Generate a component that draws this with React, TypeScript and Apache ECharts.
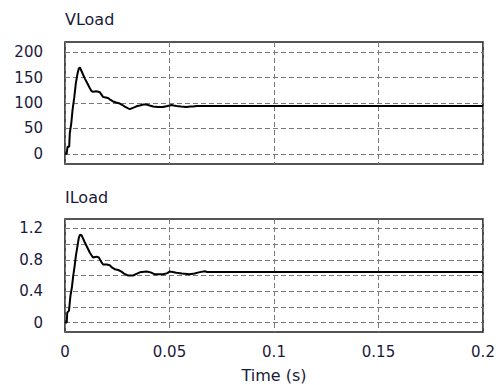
import React, { useEffect, useRef } from "react";
import * as echarts from "echarts";

// VLoad (V) vs time (s)
const vTime = [0, 0.0008, 0.0012, 0.002, 0.0023, 0.003, 0.0036, 0.0044, 0.0052, 0.006, 0.0066, 0.0071, 0.008, 0.0095, 0.0108, 0.0119, 0.0126, 0.0134, 0.015, 0.0167, 0.0182, 0.0195, 0.0206, 0.0218, 0.023, 0.0245, 0.0262, 0.0275, 0.0286, 0.03, 0.031, 0.0322, 0.0334, 0.0346, 0.0358, 0.0375, 0.039, 0.0405, 0.0422, 0.0445, 0.0469, 0.049, 0.051, 0.052, 0.0533, 0.0555, 0.0581, 0.06, 0.0613, 0.063, 0.0645, 0.2];
const vLoad = [0, 0, 14, 14, 41, 60, 86, 110, 139, 158, 168, 170, 162, 148, 138, 129, 124, 122, 123, 121, 112, 111, 110, 106, 103, 101, 99, 96, 93, 90, 88, 90, 92, 94, 95, 97, 97, 95, 93, 92, 92, 94, 96, 95, 94, 93, 92, 93, 93, 94, 94, 94];

// ILoad (A) vs time (s)
const iTime = [0, 0.0008, 0.0011, 0.0019, 0.0026, 0.0033, 0.0039, 0.0046, 0.0052, 0.006, 0.0066, 0.0072, 0.008, 0.0095, 0.0108, 0.0119, 0.0134, 0.015, 0.0162, 0.0172, 0.0182, 0.02, 0.0214, 0.0226, 0.0238, 0.0255, 0.027, 0.0285, 0.0302, 0.0326, 0.0342, 0.0358, 0.039, 0.041, 0.043, 0.047, 0.049, 0.05, 0.0515, 0.0533, 0.056, 0.0597, 0.062, 0.064, 0.0669, 0.068, 0.2];
const iLoad = [0, 0, 0.13, 0.15, 0.34, 0.45, 0.59, 0.72, 0.85, 0.98, 1.08, 1.12, 1.11, 1.02, 0.95, 0.89, 0.83, 0.84, 0.83, 0.78, 0.74, 0.74, 0.73, 0.7, 0.68, 0.67, 0.65, 0.62, 0.6, 0.6, 0.62, 0.64, 0.65, 0.64, 0.615, 0.615, 0.63, 0.65, 0.645, 0.635, 0.625, 0.615, 0.625, 0.64, 0.655, 0.645, 0.645];

const xTicks = [0, 0.05, 0.1, 0.15, 0.2];
const vGridValues = [0, 50, 100, 150, 200];
const vLabelValues = [0, 50, 100, 150, 200];
const iGridValues = [0, 0.2, 0.4, 0.6, 0.8, 1.0, 1.2];
const iLabelValues = [0, 0.4, 0.8, 1.2];

const FONT = "DejaVu Sans";
const TXT = "#1a1a3a";

const near = (arr: number[], v: number) => arr.some((a) => Math.abs(a - v) < 1e-6);

export default function App() {
  const ref = useRef<HTMLDivElement>(null);
  useEffect(() => {
    if (!ref.current) return;
    const chart = echarts.init(ref.current, null, { renderer: "svg" });
    const split = { show: true, lineStyle: { color: "#7a7a7a", width: 1, type: [5, 3] as any } };
    const grids = [
      { left: 65, top: 42, width: 418, height: 122, show: true, borderColor: "#1e1e1e", borderWidth: 1.6, backgroundColor: "#fff" },
      { left: 65, top: 219, width: 418, height: 113, show: true, borderColor: "#1e1e1e", borderWidth: 1.6, backgroundColor: "#fff" },
    ];
    const xAxisBase = {
      type: "value",
      min: 0,
      max: 0.2,
      interval: 0.05,
      axisLine: { show: false },
      axisTick: { show: false, customValues: xTicks },
      splitLine: split,
    };
    chart.setOption({
      animation: false,
      backgroundColor: "#fff",
      textStyle: { fontFamily: FONT },
      grid: grids,
      xAxis: [
        { ...xAxisBase, gridIndex: 0, axisLabel: { show: false } },
        {
          ...xAxisBase,
          gridIndex: 1,
          axisLabel: {
            show: true,
            customValues: xTicks,
            margin: 12,
            color: TXT,
            fontSize: 15,
            fontFamily: FONT,
            formatter: (v: number) => String(Number(v.toFixed(3))),
          },
          name: "Time (s)",
          nameLocation: "middle",
          nameGap: 35,
          nameTextStyle: { color: TXT, fontSize: 16, fontFamily: FONT },
        },
      ],
      yAxis: [
        {
          type: "value",
          gridIndex: 0,
          min: -20,
          max: 220,
          splitNumber: 5,
          axisLine: { show: false },
          axisTick: { show: false, customValues: vGridValues },
          splitLine: split,
          axisLabel: {
            customValues: vLabelValues,
            margin: 22,
            color: TXT,
            fontSize: 15,
            fontFamily: FONT,
            formatter: (v: number) => (near(vLabelValues, v) ? String(Math.round(v)) : ""),
          },
        },
        {
          type: "value",
          gridIndex: 1,
          min: -0.12,
          max: 1.32,
          splitNumber: 7,
          axisLine: { show: false },
          axisTick: { show: false, customValues: iGridValues },
          splitLine: split,
          axisLabel: {
            customValues: iLabelValues,
            margin: 22,
            color: TXT,
            fontSize: 15,
            fontFamily: FONT,
            formatter: (v: number) => (near(iLabelValues, v) ? String(Number(v.toFixed(2))) : ""),
          },
        },
      ],
      graphic: [
        { type: "text", left: 65, top: 11, style: { text: "VLoad", fill: TXT, font: `16px "${FONT}"` } },
        { type: "text", left: 65, top: 189, style: { text: "ILoad", fill: TXT, font: `16px "${FONT}"` } },
      ],
      series: [
        {
          type: "line",
          xAxisIndex: 0,
          yAxisIndex: 0,
          data: vTime.map((t, k) => [t, vLoad[k]]),
          showSymbol: false,
          lineStyle: { color: "#000", width: 2 },
        },
        {
          type: "line",
          xAxisIndex: 1,
          yAxisIndex: 1,
          data: iTime.map((t, k) => [t, iLoad[k]]),
          showSymbol: false,
          lineStyle: { color: "#000", width: 2 },
        },
      ],
    });
    return () => chart.dispose();
  }, []);
  return (
    <div
      ref={ref}
      style={{ position: "fixed", left: 0, top: 0, width: 501, height: 385 }}
    />
  );
}
